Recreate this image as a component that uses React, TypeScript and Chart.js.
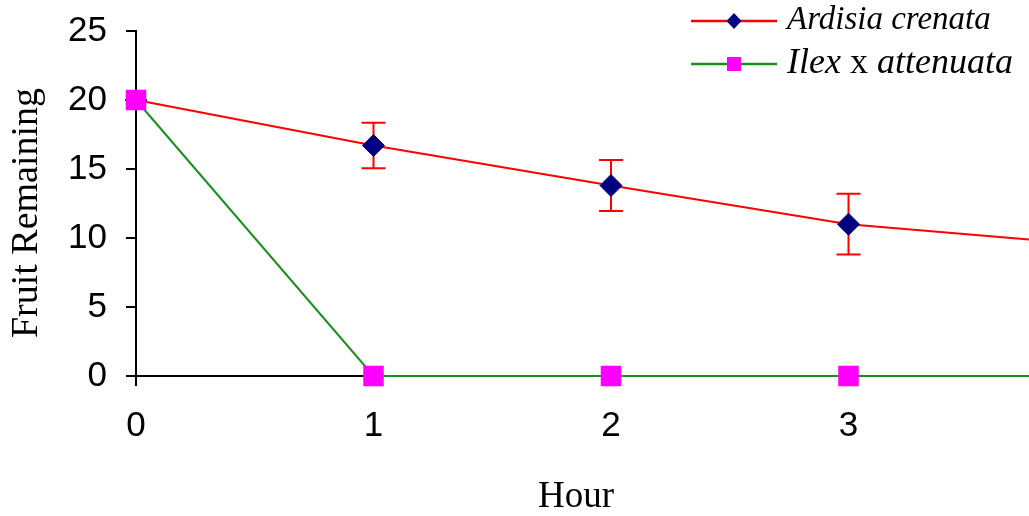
import { useEffect, useRef } from 'react';
import { Chart, registerables } from 'chart.js';

Chart.register(...registerables);

// Observation hours and the right-hand end of the drawn time axis
const hours = [0, 1, 2, 3];
const xAxisEnd = 3.76;
const xTicks = [0, 1, 2, 3];
const yTicks = [0, 5, 10, 15, 20, 25];

// Ardisia crenata: mean fruit remaining with error bar half-widths
const ardisiaMean = [20, 16.7, 13.8, 11.0];
const ardisiaErr = [0, 1.65, 1.85, 2.2];
// value where the Ardisia line leaves the plot on the right
const ardisiaTail = 9.9;

// Ilex x attenuata: fruit remaining
const ilexMean = [20, 0, 0, 0];
const ilexTail = 0;

const RED = '#ff0000';
const GREEN = '#1b8f1b';
const NAVY = '#000080';
const MAGENTA = '#ff00ff';
const SERIF = '"Liberation Serif", "Times New Roman", serif';
const SANS = '"Liberation Sans", Arial, sans-serif';

const clearPadding = (s: any) => {
  s.paddingTop = 0;
  s.paddingBottom = 0;
  s.paddingLeft = 0;
  s.paddingRight = 0;
};

const errorBars = {
  id: 'errorBars',
  beforeDatasetsDraw(chart: any) {
    const { ctx } = chart;
    const xs = chart.scales.x;
    const ys = chart.scales.y;
    ctx.save();
    ctx.strokeStyle = RED;
    ctx.lineWidth = 2;
    hours.forEach((h, i) => {
      const e = ardisiaErr[i];
      if (!e) return;
      const px = xs.getPixelForValue(h);
      const top = ys.getPixelForValue(ardisiaMean[i] + e);
      const bot = ys.getPixelForValue(ardisiaMean[i] - e);
      ctx.beginPath();
      ctx.moveTo(px, top);
      ctx.lineTo(px, bot);
      ctx.moveTo(px - 12, top);
      ctx.lineTo(px + 12, top);
      ctx.moveTo(px - 12, bot);
      ctx.lineTo(px + 12, bot);
      ctx.stroke();
    });
    ctx.restore();
  },
};

const decorations = {
  id: 'decorations',
  afterDraw(chart: any) {
    const { ctx } = chart;
    ctx.save();
    ctx.fillStyle = '#000';

    // axis titles
    ctx.font = `37px ${SERIF}`;
    ctx.textAlign = 'center';
    ctx.textBaseline = 'alphabetic';
    ctx.fillText('Hour', 576, 507);

    ctx.save();
    ctx.translate(37, 213);
    ctx.rotate(-Math.PI / 2);
    ctx.font = `38px ${SERIF}`;
    ctx.fillText('Fruit Remaining', 0, 0);
    ctx.restore();

    // legend
    const lx0 = 691;
    const lx1 = 777;
    const mx = 734;
    ctx.lineWidth = 2.5;

    ctx.strokeStyle = RED;
    ctx.beginPath();
    ctx.moveTo(lx0, 21);
    ctx.lineTo(lx1, 21);
    ctx.stroke();
    ctx.fillStyle = NAVY;
    ctx.beginPath();
    ctx.moveTo(mx, 21 - 8);
    ctx.lineTo(mx + 7.5, 21);
    ctx.lineTo(mx, 21 + 8);
    ctx.lineTo(mx - 7.5, 21);
    ctx.closePath();
    ctx.fill();

    ctx.strokeStyle = GREEN;
    ctx.beginPath();
    ctx.moveTo(lx0, 64);
    ctx.lineTo(lx1, 64);
    ctx.stroke();
    ctx.fillStyle = MAGENTA;
    ctx.fillRect(mx - 7, 64 - 7, 14, 14);

    ctx.fillStyle = '#000';
    ctx.textAlign = 'left';
    ctx.font = `italic 33px ${SERIF}`;
    ctx.fillText('Ardisia crenata', 787, 29);

    let tx = 787;
    const parts: [string, boolean][] = [
      ['Ilex', true],
      [' x ', false],
      ['attenuata', true],
    ];
    parts.forEach(([t, it]) => {
      ctx.font = `${it ? 'italic ' : ''}36px ${SERIF}`;
      ctx.fillText(t, tx, 73);
      tx += ctx.measureText(t).width;
    });

    ctx.restore();
  },
};

export default function App() {
  const canvasRef = useRef<HTMLCanvasElement | null>(null);

  useEffect(() => {
    const canvas = canvasRef.current;
    if (!canvas) return;

    const ardisiaData = [
      ...hours.map((h, i) => ({ x: h, y: ardisiaMean[i] })),
      { x: xAxisEnd, y: ardisiaTail },
    ];
    const ilexData = [
      ...hours.map((h, i) => ({ x: h, y: ilexMean[i] })),
      { x: xAxisEnd, y: ilexTail },
    ];

    const chart = new Chart(canvas, {
      type: 'line',
      data: {
        datasets: [
          {
            label: 'Ilex x attenuata',
            data: ilexData,
            borderColor: GREEN,
            borderWidth: 2,
            pointStyle: 'rect',
            pointRadius: (c: any) => (c.dataIndex < hours.length ? 14.5 : 0),
            pointBackgroundColor: MAGENTA,
            pointBorderColor: MAGENTA,
            pointBorderWidth: 0,
            tension: 0,
            clip: false,
            order: 0,
          },
          {
            label: 'Ardisia crenata',
            data: ardisiaData,
            borderColor: RED,
            borderWidth: 2,
            pointStyle: 'rectRot',
            pointRadius: (c: any) => (c.dataIndex < hours.length ? 11 : 0),
            pointBackgroundColor: NAVY,
            pointBorderColor: NAVY,
            pointBorderWidth: 1,
            tension: 0,
            clip: false,
            order: 1,
          },
        ],
      },
      options: {
        animation: false,
        responsive: false,
        events: [],
        layout: {
          autoPadding: false,
          padding: { top: 31, right: 0, left: 0, bottom: 0 },
        },
        plugins: {
          legend: { display: false },
          tooltip: { enabled: false },
        },
        scales: {
          x: {
            type: 'linear',
            min: 0,
            max: xAxisEnd,
            afterFit: (s: any) => {
              s.height = 140;
              clearPadding(s);
            },
            afterBuildTicks: (s: any) => {
              s.ticks = xTicks.map((v) => ({ value: v }));
            },
            grid: {
              drawOnChartArea: false,
              drawTicks: true,
              tickLength: 10,
              color: '#000',
              lineWidth: 2,
            },
            border: { display: true, color: '#000', width: 2 },
            ticks: {
              color: '#000',
              font: { family: SANS, size: 35 },
              padding: 19,
              maxRotation: 0,
              autoSkip: false,
            },
          },
          y: {
            type: 'linear',
            min: 0,
            max: 25,
            afterFit: (s: any) => {
              s.width = 136;
              clearPadding(s);
            },
            afterBuildTicks: (s: any) => {
              s.ticks = yTicks.map((v) => ({ value: v }));
            },
            grid: {
              drawOnChartArea: false,
              drawTicks: true,
              tickLength: 10,
              color: '#000',
              lineWidth: 2,
            },
            border: { display: true, color: '#000', width: 2 },
            ticks: {
              color: '#000',
              font: { family: SANS, size: 35 },
              padding: 19,
              autoSkip: false,
            },
          },
        },
      },
      plugins: [errorBars, decorations],
    });

    return () => chart.destroy();
  }, []);

  return (
    <div
      style={{
        position: 'fixed',
        left: 0,
        top: 0,
        width: 1029,
        height: 516,
        background: '#fff',
      }}
    >
      <canvas ref={canvasRef} width={1029} height={516} />
    </div>
  );
}
